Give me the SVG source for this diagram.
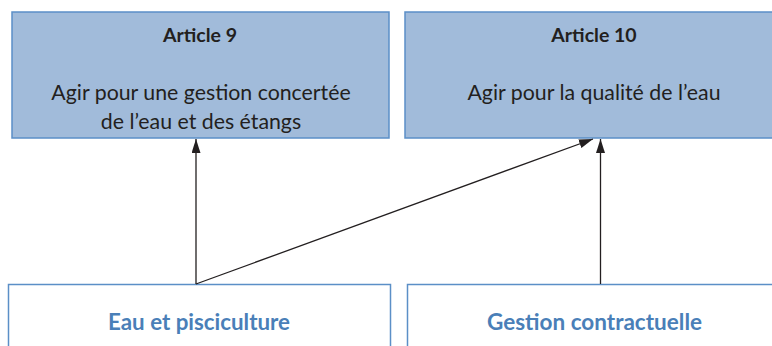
<svg xmlns="http://www.w3.org/2000/svg" width="772" height="346" viewBox="0 0 772 346">
<style>
.top{fill:#a1bbda;stroke:#5b8fc7;stroke-width:1.5}
.bot{fill:#ffffff;stroke:#5b8fc7;stroke-width:1.5}
.ttl{font-family:Lato,"Open Sans",sans-serif;font-weight:bold;font-size:19.5px;fill:#231f20;text-anchor:middle}
.txt{font-family:Lato,"Open Sans",sans-serif;font-size:21.3px;fill:#231f20;text-anchor:middle}
.lbl{font-family:Lato,"Open Sans",sans-serif;font-weight:bold;font-size:23.5px;fill:#4a7fb8;text-anchor:middle}
.con{stroke:#231f20;stroke-width:1.3;fill:none;marker-end:url(#arr)}
</style>
<defs>
<marker id="arr" markerWidth="14" markerHeight="9" refX="14" refY="4.5" orient="auto" markerUnits="userSpaceOnUse" viewBox="0 0 14 9">
<path d="M0,0 L14,4.5 L0,9 Z" fill="#231f20"/>
</marker>
</defs>
<g id="article9">
<rect class="top" x="12" y="12" width="377" height="126"/>
<text class="ttl" x="200" y="42">Article 9</text>
<text class="txt" x="201" y="100">Agir pour une gestion concertée</text>
<text class="txt" x="201" y="129">de l’eau et des étangs</text>
</g>
<g id="article10">
<rect class="top" x="405" y="12" width="380" height="126"/>
<text class="ttl" x="594" y="42">Article 10</text>
<text class="txt" x="594" y="100">Agir pour la qualité de l’eau</text>
</g>
<g id="eau">
<rect class="bot" x="8.5" y="284.5" width="382" height="80"/>
<text class="lbl" x="199" y="330" textLength="182" lengthAdjust="spacingAndGlyphs">Eau et pisciculture</text>
</g>
<g id="gestion">
<rect class="bot" x="407.5" y="284.5" width="380" height="80"/>
<text class="lbl" x="594.5" y="330" textLength="215" lengthAdjust="spacingAndGlyphs">Gestion contractuelle</text>
</g>
<g id="connectors">
<line class="con" x1="196" y1="284" x2="196" y2="139"/>
<line class="con" x1="196" y1="284" x2="593" y2="139"/>
<line class="con" x1="600.5" y1="284" x2="600.5" y2="139"/>
</g>
</svg>
